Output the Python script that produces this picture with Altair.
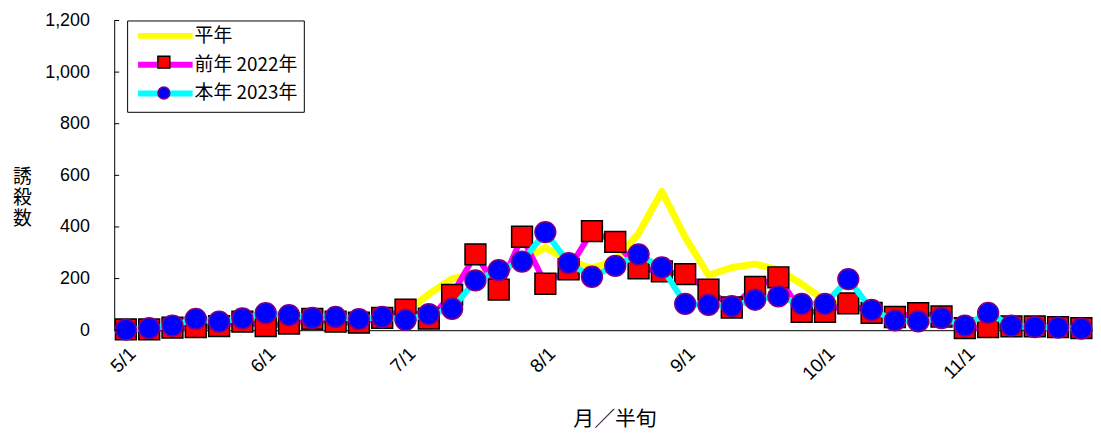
import altair as alt
import pandas as pd

# categories: half-month (半旬) periods from May to November
months = [5, 6, 7, 8, 9, 10, 11]
days = [1, 6, 11, 16, 21, 26]
periods = [f"{m}/{d}" for m in months for d in days]
tick_labels = ["5/1", "6/1", "7/1", "8/1", "9/1", "10/1", "11/1"]
y_ticks = [0, 200, 400, 600, 800, 1000, 1200]

series_names = ["平年", "前年 2022年", "本年 2023年"]
marker_keys = ["m_平年", "m_前年", "m_本年"]

normal = [5, 7, 10, 15, 18, 22, 28, 30, 32, 35, 38, 42,
          68, 140, 200, 215, 235, 270, 320, 270, 240, 270, 375, 538,
          360, 213, 243, 256, 235, 179, 115, 90, 70, 55, 45, 40,
          30, 25, 20, 15, 12, 10]
prev = [3, 3, 10, 12, 16, 33, 16, 26, 44, 33, 29, 48,
        80, 45, 137, 294, 157, 362, 180, 236, 384, 342, 240, 228,
        217, 157, 88, 168, 205, 71, 71, 104, 67, 51, 66, 53,
        8, 12, 15, 15, 12, 8]
curr = [2, 8, 18, 44, 33, 46, 66, 58, 48, 51, 43, 51,
        40, 62, 83, 193, 233, 266, 380, 260, 207, 249, 294, 243,
        102, 98, 93, 118, 131, 102, 102, 198, 79, 38, 34, 47,
        18, 67, 18, 12, 10, 6]

rows = []
for name, key, vals in zip(series_names, marker_keys, [normal, prev, curr]):
    for p, v in zip(periods, vals):
        rows.append({"period": p, "value": v, "series": name, "mseries": key})
df = pd.DataFrame(rows)
tick_df = pd.DataFrame({"v": y_ticks})

NUM_FONT = "Liberation Sans"
CJK_FONT = "Noto Sans CJK JP"

x_enc = alt.X(
    "period:O",
    scale=alt.Scale(type="point", domain=periods, padding=0.5),
    axis=alt.Axis(
        values=tick_labels, labelAngle=-45, labelAlign="right", labelBaseline="top",
        labelPadding=14, ticks=False, tickSize=0, labelFont=NUM_FONT, labelFontSize=19,
        labelColor="black", domainColor="black", domainWidth=1,
        title="月／半旬", titleFont=CJK_FONT, titleFontSize=21, titleFontWeight="normal",
        titleColor="black", titleX=504, titleY=90, titleAlign="center",
        titleBaseline="middle", grid=False,
    ),
)
y_axis = alt.Axis(
    values=y_ticks, format=",d", ticks=False, tickSize=0, labelPadding=25,
    labelFont=NUM_FONT, labelFontSize=18, labelColor="black",
    domainColor="black", domainWidth=1, grid=False,
    title=["誘", "殺", "数"], titleFont=CJK_FONT, titleFontSize=19,
    titleFontWeight="normal", titleColor="black", titleAngle=0,
    titleX=-93, titleY=157, titleAlign="center", titleBaseline="middle",
    titleLineHeight=21.5,
)
y_enc = alt.Y("value:Q", scale=alt.Scale(domain=[0, 1200]), axis=y_axis)

color_enc = alt.Color(
    "series:N",
    scale=alt.Scale(domain=series_names, range=["#FFFF00", "#FF00FF", "#00FFFF"]),
    legend=alt.Legend(
        title=None, orient="none", legendX=13, legendY=0,
        symbolType="M-5,0L5,0", symbolSize=121, symbolStrokeWidth=6,
        symbolOffset=23, labelOffset=20,
        labelFont=CJK_FONT, labelFontSize=19, labelColor="black",
        strokeColor="black", padding=6, rowPadding=4, fillColor="white",
    ),
)
mk_legend = alt.Legend(
    title=None, orient="none", legendX=13, legendY=-1, symbolSize=144,
    symbolOffset=25, labelOffset=0, labelExpr="''",
    labelFontSize=1, padding=5, rowPadding=13, symbolStrokeWidth=1.5,
)
fill_enc = alt.Fill(
    "mseries:N",
    scale=alt.Scale(domain=marker_keys, range=["transparent", "#FF0000", "#0000FF"]),
    legend=mk_legend,
)
shape_enc = alt.Shape(
    "mseries:N",
    scale=alt.Scale(domain=marker_keys, range=["circle", "square", "circle"]),
    legend=mk_legend,
)
stroke_enc = alt.Stroke(
    "mseries:N",
    scale=alt.Scale(domain=marker_keys, range=["transparent", "#000000", "#800080"]),
    legend=mk_legend,
)

base = alt.Chart(df)

def line_layer(name, width):
    return base.transform_filter(alt.datum.series == name).mark_line(
        strokeWidth=width, strokeJoin="round", strokeCap="round"
    ).encode(x=x_enc, y=y_enc, color=color_enc)

def point_layer(name):
    return base.transform_filter(alt.datum.series == name).mark_point(
        filled=True, size=440, strokeWidth=1.5, opacity=1
    ).encode(x=x_enc, y=y_enc, fill=fill_enc, shape=shape_enc, stroke=stroke_enc)

ticks = alt.Chart(tick_df).mark_rule(color="black", strokeWidth=1).encode(
    y=alt.Y("v:Q", scale=alt.Scale(domain=[0, 1200]), axis=y_axis),
    x=alt.value(0), x2=alt.value(5),
)

chart = alt.layer(
    line_layer("平年", 7),
    line_layer("前年 2022年", 6),
    point_layer("前年 2022年"),
    line_layer("本年 2023年", 6),
    point_layer("本年 2023年"),
    ticks,
).properties(
    width=986, height=312,
    autosize=alt.AutoSizeParams(type="none"),
    padding={"left": 107, "top": 11, "right": 0, "bottom": 102},
).configure_view(stroke="transparent", strokeWidth=0)

chart.save("out.html", embed_options={"renderer": "svg", "actions": False})
